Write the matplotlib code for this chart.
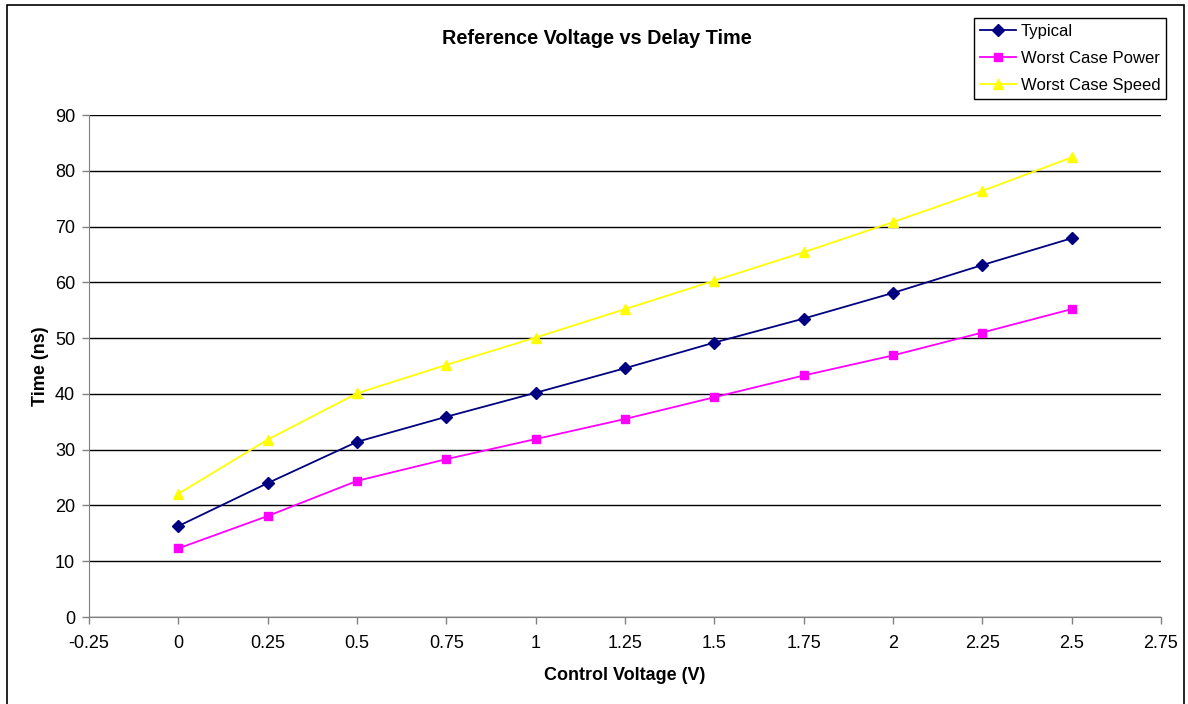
import matplotlib.pyplot as plt
from matplotlib.patches import Rectangle

plt.rcParams["font.family"] = ["Liberation Sans", "DejaVu Sans"]

# control voltage sweep (V) and measured delay (ns)
voltage = [0, 0.25, 0.5, 0.75, 1, 1.25, 1.5, 1.75, 2, 2.25, 2.5]
typical = [16.3, 24.0, 31.4, 35.9, 40.2, 44.6, 49.2, 53.5, 58.1, 63.1, 67.9]
worst_power = [12.3, 18.1, 24.4, 28.3, 31.9, 35.5, 39.4, 43.3, 46.9, 51.0, 55.2]
worst_speed = [22.1, 31.8, 40.1, 45.2, 50.1, 55.2, 60.3, 65.4, 70.8, 76.4, 82.4]

x_ticks = [-0.25, 0, 0.25, 0.5, 0.75, 1, 1.25, 1.5, 1.75, 2, 2.25, 2.5, 2.75]
x_labels = ["-0.25", "0", "0.25", "0.5", "0.75", "1", "1.25", "1.5", "1.75", "2", "2.25", "2.5", "2.75"]
y_ticks = [0, 10, 20, 30, 40, 50, 60, 70, 80, 90]

W, H = 1188, 704
fig = plt.figure(figsize=(W / 100, H / 100), dpi=100)
ax = fig.add_axes([89 / W, 1 - 617 / H, (1161 - 89) / W, (617 - 115) / H])

# outer chart border (bottom edge runs off the canvas)
fig.patches.append(Rectangle((7 / W, -10 / H), (1184 - 7) / W, (H + 10 - 5) / H, transform=fig.transFigure,
                             fill=False, edgecolor="black", linewidth=1.2))

ax.plot(voltage, typical, color="#000080", marker="D", markersize=6, linewidth=1.3, label="Typical")
ax.plot(voltage, worst_power, color="#FF00FF", marker="s", markersize=6, linewidth=1.3, label="Worst Case Power")
ax.plot(voltage, worst_speed, color="#FFFF00", marker="^", markersize=7, linewidth=1.3, label="Worst Case Speed")

ax.set_xlim(-0.25, 2.75)
ax.set_ylim(0, 90)
ax.set_xticks(x_ticks)
ax.set_xticklabels(x_labels)
ax.set_yticks(y_ticks)
ax.yaxis.grid(True, color="black", linewidth=1)
ax.set_axisbelow(True)
ax.tick_params(direction="out", length=5, width=1, color="#808080", labelsize=13, pad=5)
ax.tick_params(axis="x", pad=8)

for side in ["top", "right"]:
    ax.spines[side].set_visible(False)
ax.spines["left"].set_color("#808080")
ax.spines["bottom"].set_color("#808080")

ax.set_xlabel("Control Voltage (V)", fontsize=13, fontweight="bold", labelpad=11)
ax.set_ylabel("Time (ns)", fontsize=13, fontweight="bold", labelpad=4)
fig.text(597 / W, 1 - 38 / H, "Reference Voltage vs Delay Time", ha="center", va="center",
         fontsize=14.3, fontweight="bold")

leg = fig.legend(loc="upper right", bbox_to_anchor=(1166 / W, 1 - 18 / H), fontsize=12,
                 frameon=True, fancybox=False, edgecolor="black", framealpha=1,
                 borderpad=0.35, labelspacing=0.72, handlelength=2.2, handletextpad=0.25,
                 borderaxespad=0)
leg.get_frame().set_linewidth(1)

fig.savefig("out.png", dpi=100)
